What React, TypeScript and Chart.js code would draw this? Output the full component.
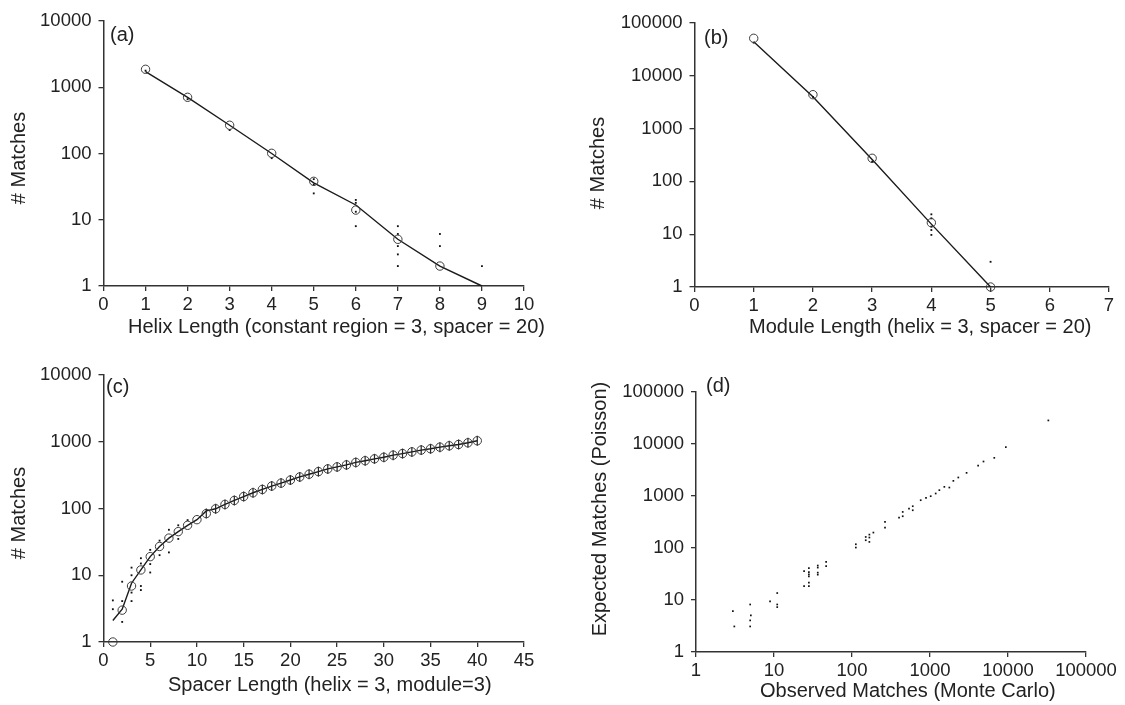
import React, { useEffect, useRef } from 'react';
import { Chart, registerables } from 'chart.js';
Chart.register(...registerables);

const W = 1125;
const H = 705;
const FONT = "'Liberation Sans', Arial, Helvetica, sans-serif";
const AX = '#333333';
const TXT = '#222222';
const YW = 80;
const XH = 40;

// ---------- (a) Helix length ----------
const helixX = [1, 2, 3, 4, 5, 6, 7, 8, 9];
const helixLine = [1720, 705, 267, 100, 36, 16.7, 5.07, 2, 1];
const helixCircleX = [1, 2, 3, 4, 5, 6, 7, 8];
const helixCircles = [1866, 705, 267, 100.7, 38, 14, 5.07, 2];
const helixDotsX = [1, 2, 3, 4, 5, 5, 5, 6, 6, 6, 6, 7, 7, 7, 7, 7, 8, 8, 9];
const helixDotsY = [1780, 660, 226, 85, 41, 34, 25, 19.9, 18, 13.2, 8, 8, 6.1, 4, 3, 2, 6.1, 4, 2];
const helixXTicks = [0, 1, 2, 3, 4, 5, 6, 7, 8, 9, 10];

// ---------- (b) Module length ----------
const moduleX = [1, 2, 3, 4, 5];
const moduleLine = [44300, 4020, 260, 15.5, 1];
const moduleCircles = [51300, 4390, 274, 16.5, 1];
const moduleDotsX = [1, 2, 3, 4, 4, 4, 4, 4, 5];
const moduleDotsY = [42400, 4000, 236, 23.8, 20, 13.9, 12, 9.7, 3];
const moduleXTicks = [0, 1, 2, 3, 4, 5, 6, 7];

// ---------- (c) Spacer length ----------
const spacerX = [1, 2, 3, 4, 5, 6, 7, 8, 9, 10, 11, 12, 13, 14, 15, 16, 17, 18, 19, 20,
  21, 22, 23, 24, 25, 26, 27, 28, 29, 30, 31, 32, 33, 34, 35, 36, 37, 38, 39, 40];
const spacerCircles = [1, 3, 6.9, 12, 19, 27, 36, 45, 56, 68, 84, 99, 115, 132, 151, 172, 193, 217, 240, 267,
  297, 326, 357, 392, 420, 450, 490, 520, 555, 585, 630, 665, 705, 750, 785, 830, 870, 910, 965, 1035];
const spacerLine = [2.1, 3.1, 7.6, 12, 19, 27, 36, 45, 56, 68, 92, 99, 115, 132, 151, 172, 193, 217, 240, 267,
  297, 326, 357, 392, 420, 450, 490, 520, 555, 585, 630, 665, 705, 750, 785, 830, 870, 910, 965, 1035];
const spacerDotsX = [1, 1, 2, 2, 2, 3, 3, 3, 3, 4, 4, 4, 4, 5, 5, 5, 6, 6, 7, 7, 8, 8, 9];
const spacerDotsY = [4.2, 3.1, 8, 4.1, 2, 13, 10, 5.5, 4.1, 18, 15, 6.9, 6, 24, 14.7, 11, 33, 20, 48, 22, 56, 35, 67];
const spacerXTicks = [0, 5, 10, 15, 20, 25, 30, 35, 40, 45];

// ---------- (d) Observed vs expected ----------
const observed = [2.97, 3.1, 4.95, 5.05, 4.95, 4.95, 8.9, 11, 11, 11, 24.3, 24.3, 28, 28, 28, 28, 28, 28,
  36.4, 36.4, 36.4, 36.4, 46.6, 46.6, 112, 112, 150, 150, 167, 167, 167, 188, 265, 265, 401, 447, 447,
  538, 601, 601, 760, 889, 1021, 1183, 1318, 1527, 1770, 1993, 2306, 2944, 4140, 4850, 6670, 9380, 32900];
const expected = [6.1, 3.1, 8.2, 5.05, 4.05, 3.1, 9.4, 13.6, 8.2, 7.3, 36, 18.5, 41, 34.5, 31, 28.5, 21.5, 18.5,
  46, 42, 33.6, 30.7, 54, 45, 118, 102, 163, 141, 181, 159, 131, 198, 318, 247, 385, 494, 408,
  574, 636, 532, 830, 920, 991, 1117, 1294, 1500, 1455, 1954, 2270, 2786, 3855, 4605, 5420, 8710, 28400];

const decades4 = [1, 10, 100, 1000, 10000];
const decades5 = [1, 10, 100, 1000, 10000, 100000];

const pts = (xs: number[], ys: number[]) => xs.map((x, i) => ({ x, y: ys[i] }));

const lineDs = (xs: number[], ys: number[]) => ({
  data: pts(xs, ys), showLine: true, pointRadius: 0, borderColor: '#1a1a1a', borderWidth: 1.4, tension: 0, clip: false,
});
const circleDs = (xs: number[], ys: number[]) => ({
  data: pts(xs, ys), showLine: false, pointStyle: 'circle', pointRadius: 4.2, pointBorderWidth: 1,
  pointBorderColor: '#3a3a3a', pointBackgroundColor: 'rgba(0,0,0,0)', clip: false,
});
const dotDs = (xs: number[], ys: number[], r = 1.3) => ({
  data: pts(xs, ys), showLine: false, pointStyle: 'rect', pointRadius: r, pointBorderWidth: 0,
  pointBackgroundColor: '#111111', pointBorderColor: '#111111', clip: false,
});
const dashDs = (xs: number[], ys: number[]) => ({
  data: pts(xs, ys), showLine: false, pointStyle: 'line', pointRotation: 90, pointRadius: 5, pointBorderWidth: 1.2,
  pointBorderColor: '#222222', clip: false,
});

type Spec = {
  left: number; right: number; top: number; bottom: number;
  xType: 'linear' | 'logarithmic'; xMin: number; xMax: number; xTicks: number[];
  yMax: number; yTicks: number[];
  makeDatasets: () => any[];
};

const specs: Spec[] = [
  {
    left: 103.5, right: 524, top: 21, bottom: 286,
    xType: 'linear', xMin: 0, xMax: 10, xTicks: helixXTicks, yMax: 10000, yTicks: decades4,
    makeDatasets: () => [circleDs(helixCircleX, helixCircles), dotDs(helixDotsX, helixDotsY), lineDs(helixX, helixLine)],
  },
  {
    left: 694.5, right: 1109, top: 23, bottom: 287,
    xType: 'linear', xMin: 0, xMax: 7, xTicks: moduleXTicks, yMax: 100000, yTicks: decades5,
    makeDatasets: () => [circleDs(moduleX, moduleCircles), dotDs(moduleDotsX, moduleDotsY), lineDs(moduleX, moduleLine)],
  },
  {
    left: 103.5, right: 524, top: 375, bottom: 642,
    xType: 'linear', xMin: 0, xMax: 45, xTicks: spacerXTicks, yMax: 10000, yTicks: decades4,
    makeDatasets: () => [
      circleDs(spacerX, spacerCircles),
      dashDs(spacerX.slice(10), spacerCircles.slice(10)),
      dotDs(spacerDotsX, spacerDotsY),
      lineDs(spacerX, spacerLine),
    ],
  },
  {
    left: 696, right: 1086, top: 392, bottom: 652,
    xType: 'logarithmic', xMin: 1, xMax: 100000, xTicks: decades5, yMax: 100000, yTicks: decades5,
    makeDatasets: () => [dotDs(observed, expected, 1.2)],
  },
];

function buildOptions(s: Spec): any {
  const tickFont = { family: FONT, size: 18.5 };
  return {
    responsive: false,
    animation: false,
    events: [],
    layout: { padding: { left: s.left - YW, right: W - s.right, top: s.top, bottom: H - s.bottom - XH } },
    plugins: { legend: { display: false }, tooltip: { enabled: false }, title: { display: false } },
    scales: {
      x: {
        type: s.xType, position: 'bottom', min: s.xMin, max: s.xMax, offset: false,
        afterBuildTicks: (sc: any) => { sc.ticks = s.xTicks.map((v) => ({ value: v })); },
        afterFit: (sc: any) => { sc.height = XH; },
        grid: { display: true, drawOnChartArea: false, drawTicks: true, tickLength: 5, color: AX, lineWidth: 1.3 },
        border: { display: true, color: AX, width: 1.5 },
        ticks: { padding: 3, color: TXT, font: tickFont, maxRotation: 0, autoSkip: false, callback: (v: any) => String(v) },
        title: { display: false },
      },
      y: {
        type: 'logarithmic', position: 'left', min: 1, max: s.yMax,
        afterBuildTicks: (sc: any) => { sc.ticks = s.yTicks.map((v) => ({ value: v })); },
        afterFit: (sc: any) => { sc.width = YW; },
        grid: { display: true, drawOnChartArea: false, drawTicks: true, tickLength: 5, color: AX, lineWidth: 1.3 },
        border: { display: true, color: AX, width: 1.5 },
        ticks: { padding: 7, color: TXT, font: tickFont, autoSkip: false, callback: (v: any) => String(v) },
        title: { display: false },
      },
    },
  };
}

function Panel({ spec }: { spec: Spec }) {
  const ref = useRef<HTMLCanvasElement | null>(null);
  useEffect(() => {
    if (!ref.current) return;
    const chart = new Chart(ref.current, {
      type: 'scatter',
      data: { datasets: spec.makeDatasets() },
      options: buildOptions(spec),
    } as any);
    return () => chart.destroy();
  }, [spec]);
  return (
    <canvas ref={ref} width={W} height={H}
      style={{ position: 'absolute', left: 0, top: 0, width: W, height: H }} />
  );
}

const TITLE_SIZE = 20;
const BASE = 17; // baseline offset from box top for line-height 1

function HText({ text, left, baseline }: { text: string; left: number; baseline: number }) {
  return (
    <div style={{
      position: 'absolute', left, top: baseline - BASE, fontFamily: FONT, fontSize: TITLE_SIZE,
      lineHeight: 1, color: TXT, whiteSpace: 'nowrap',
    }}>{text}</div>
  );
}

function VText({ text, cx, cy }: { text: string; cx: number; cy: number }) {
  return (
    <div style={{
      position: 'absolute', left: cx, top: cy, fontFamily: FONT, fontSize: TITLE_SIZE, lineHeight: 1,
      color: TXT, whiteSpace: 'nowrap', transform: 'translate(-50%, -50%) rotate(-90deg)',
    }}>{text}</div>
  );
}

export default function App() {
  return (
    <div style={{ position: 'absolute', left: 0, top: 0, width: W, height: H, background: '#ffffff', overflow: 'hidden' }}>
      {specs.map((s, i) => <Panel key={i} spec={s} />)}
      <HText text="(a)" left={110} baseline={41} />
      <HText text="(b)" left={704} baseline={44} />
      <HText text="(c)" left={106} baseline={393} />
      <HText text="(d)" left={706} baseline={392} />
      <HText text="Helix Length (constant region = 3, spacer = 20)" left={128} baseline={333} />
      <HText text="Module Length (helix = 3, spacer = 20)" left={749} baseline={333} />
      <HText text="Spacer Length (helix = 3, module=3)" left={168} baseline={691} />
      <HText text="Observed Matches (Monte Carlo)" left={760} baseline={697} />
      <VText text="# Matches" cx={18} cy={158} />
      <VText text="# Matches" cx={596.5} cy={163} />
      <VText text="# Matches" cx={17.5} cy={512.5} />
      <VText text="Expected Matches (Poisson)" cx={598.5} cy={509} />
    </div>
  );
}
